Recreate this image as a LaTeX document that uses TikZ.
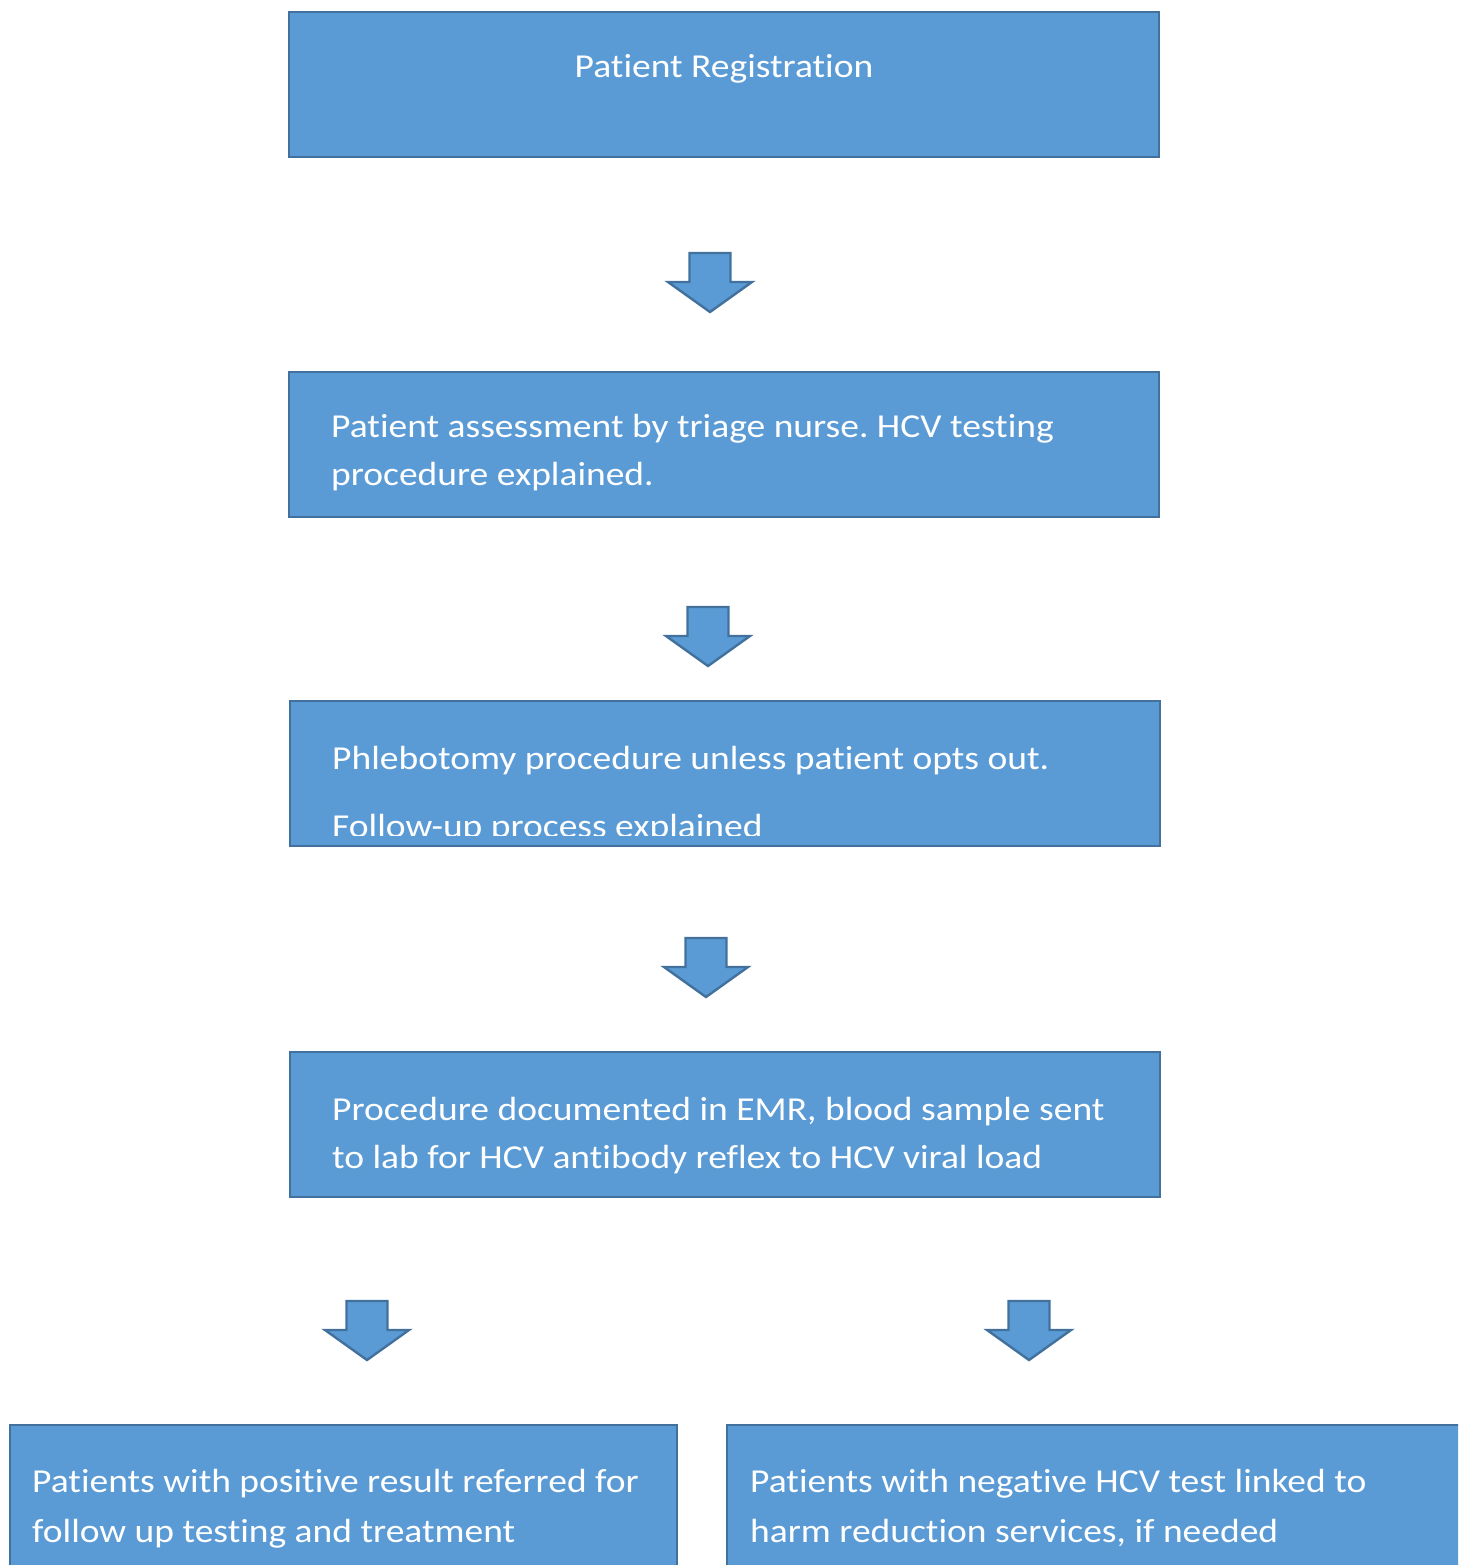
\documentclass[tikz,border=0pt]{standalone}
\usepackage{fontspec}
\setmainfont{Carlito}[Ligatures={NoCommon}, FakeStretch=1.12]
\frenchspacing
\definecolor{boxfill}{HTML}{5B9BD5}
\definecolor{boxline}{HTML}{41719C}
\tikzset{
  box/.style={draw=boxline, fill=boxfill, line width=2.4pt, rectangle, anchor=north west, inner sep=0pt},
  txt/.style={text=white, font=\fontsize{33.5}{48}\selectfont, anchor=base west, inner sep=0pt},
  blockarrow/.style={draw=boxline, fill=boxfill, line width=2.4pt, line join=miter},
}
\usetikzlibrary{calc}
\newcommand{\downblock}[3]{% name, center x, top y
  \coordinate (#1) at (#2,#3);
  \path[blockarrow] ($(#1)+(-20.5,0)$) -- ($(#1)+(20.5,0)$) -- ($(#1)+(20.5,29)$) -- ($(#1)+(42,29)$)
    -- ($(#1)+(0,59)$) -- ($(#1)+(-42,29)$) -- ($(#1)+(-20.5,29)$) -- cycle;
}
\begin{document}
\begin{tikzpicture}[x=1pt,y=-1pt]
\useasboundingbox (0,0) rectangle (1458,1565);
\clip (0,0) rectangle (1458,1565);
% boxes
\node[box, minimum width=870pt, minimum height=145pt] (b1) at (288,11) {};
\node[txt, anchor=base] (t1) at (724,78) {Patient Registration};

\node[box, minimum width=870pt, minimum height=145pt] (b2) at (288,371) {};
\node[txt] (t2a) at (331,437) {Patient assessment by triage nurse. HCV testing};
\node[txt] (t2b) at (331,485) {procedure explained.};

\node[box, minimum width=870pt, minimum height=145pt] (b3) at (289,700) {};
\node[txt] (t3a) at (332,769) {Phlebotomy procedure unless patient opts out.};
\begin{scope}
\clip (289,700) rectangle (1159,835);
\node[txt] (t3b) at (332,837) {Follow-up process explained};
\end{scope}

\node[box, minimum width=870pt, minimum height=145pt] (b4) at (289,1051) {};
\node[txt] (t4a) at (332,1120) {Procedure documented in EMR, blood sample sent};
\node[txt] (t4b) at (332,1168) {to lab for HCV antibody reflex to HCV viral load};

\node[box, minimum width=667pt, minimum height=200pt] (b5) at (9,1424) {};
\node[txt] (t5a) at (32,1492) {Patients with positive result referred for};
\node[txt] (t5b) at (32,1542) {follow up testing and treatment};

\node[box, minimum width=760pt, minimum height=200pt] (b6) at (726,1424) {};
\node[txt] (t6a) at (750,1492) {Patients with negative HCV test linked to};
\node[txt] (t6b) at (750,1542) {harm reduction services, if needed};

% block arrows
\downblock{a1}{710}{253}
\downblock{a2}{708}{607}
\downblock{a3}{706}{938}
\downblock{a4}{367}{1301}
\downblock{a5}{1029}{1301}
\end{tikzpicture}
\end{document}
